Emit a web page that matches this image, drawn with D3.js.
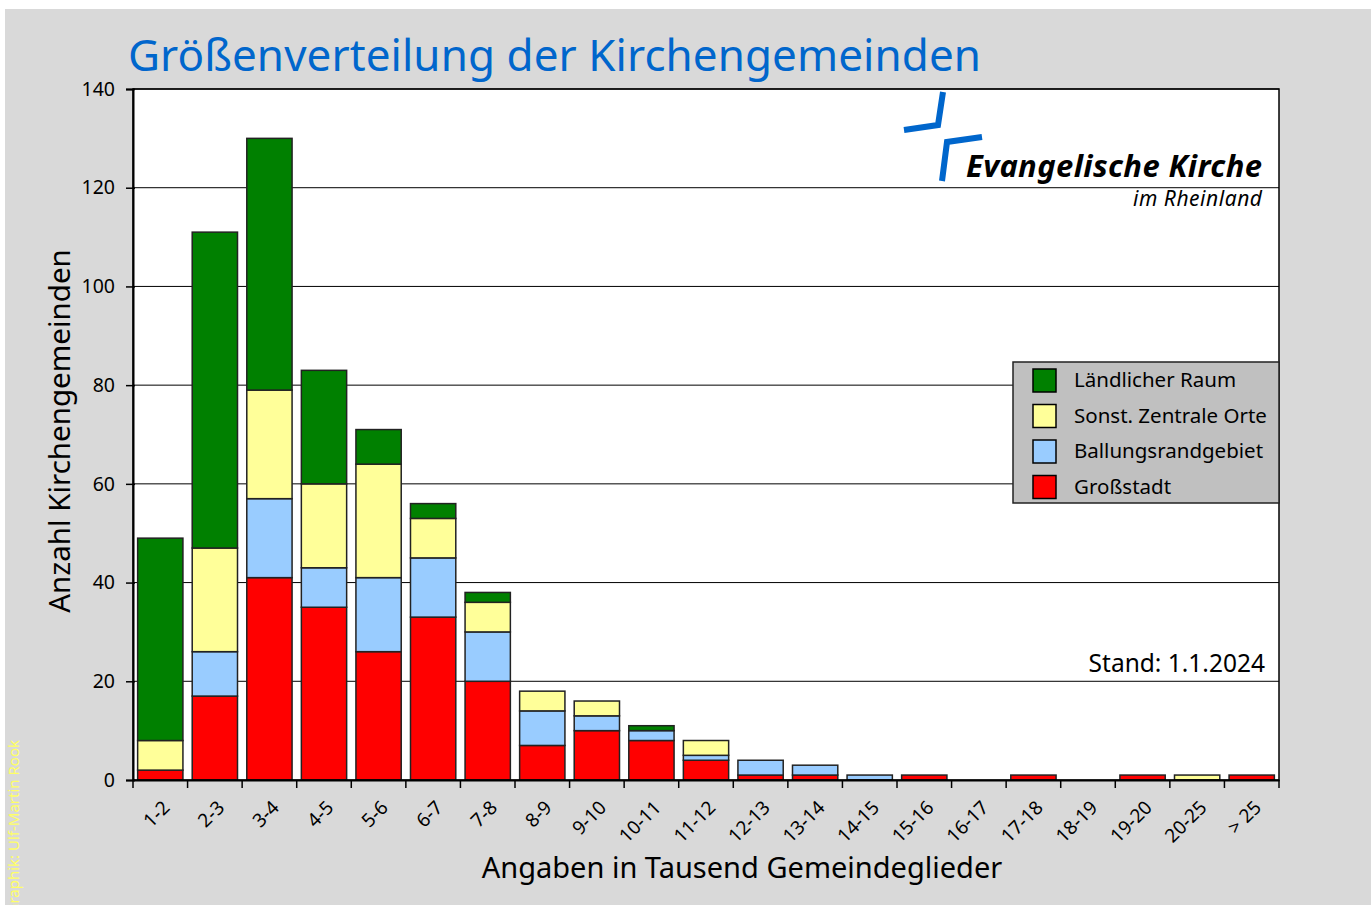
<!DOCTYPE html>
<html>
<head>
<meta charset="utf-8">
<script src="https://cdn.jsdelivr.net/npm/d3@7"></script>
<style>
  body { margin: 0; background: #fff; }
  svg text { font-family: "Noto Sans", "Open Sans", sans-serif; }
</style>
</head>
<body>
<div id="chart"></div>
<script>
window.addEventListener('DOMContentLoaded', () => {

    // categories (thousand members)
    const categories = ['1-2', '2-3', '3-4', '4-5', '5-6', '6-7', '7-8', '8-9', '9-10', '10-11',
        '11-12', '12-13', '13-14', '14-15', '15-16', '16-17', '17-18', '18-19', '19-20', '20-25', '> 25'];

    // series values, bottom to top
    const grossstadt      = [2, 17, 41, 35, 26, 33, 20, 7, 10, 8, 4, 1, 1, 0, 1, 0, 1, 0, 1, 0, 1];
    const ballungsrand    = [0, 9, 16, 8, 15, 12, 10, 7, 3, 2, 1, 3, 2, 1, 0, 0, 0, 0, 0, 0, 0];
    const zentraleOrte    = [6, 21, 22, 17, 23, 8, 6, 4, 3, 0, 3, 0, 0, 0, 0, 0, 0, 0, 0, 1, 0];
    const laendlicherRaum = [41, 64, 51, 23, 7, 3, 2, 0, 0, 1, 0, 0, 0, 0, 0, 0, 0, 0, 0, 0, 0];

    const seriesNames = ['Großstadt', 'Ballungsrandgebiet', 'Sonst. Zentrale Orte', 'Ländlicher Raum'];
    const seriesColors = ['#ff0000', '#99ccff', '#ffff99', '#008000'];
    const yTicks = [0, 20, 40, 60, 80, 100, 120, 140];

    const width = 1371, height = 905;
    const plot = { left: 133, right: 1279, top: 89, bottom: 780 };

    const svg = d3.select('#chart').append('svg')
        .attr('width', width)
        .attr('height', height);

    // grey page background
    svg.append('rect')
        .attr('x', 5).attr('y', 9)
        .attr('width', width - 5).attr('height', height - 9)
        .attr('fill', '#d9d9d9');

    svg.append('rect')
        .attr('x', plot.left).attr('y', plot.top)
        .attr('width', plot.right - plot.left).attr('height', plot.bottom - plot.top)
        .attr('fill', '#fff');

    const x = d3.scaleBand()
        .domain(categories)
        .range([plot.left, plot.right])
        .paddingInner(0.17)
        .paddingOuter(0.085);

    const xTickScale = d3.scaleBand().domain(categories).range([plot.left, plot.right]);

    const y = d3.scaleLinear().domain([0, 140]).range([plot.bottom, plot.top]);

    // gridlines
    svg.append('g')
        .selectAll('line')
        .data(yTicks.slice(1))
        .join('line')
        .attr('x1', plot.left).attr('x2', plot.right)
        .attr('y1', d => y(d)).attr('y2', d => y(d))
        .attr('stroke', '#000').attr('stroke-width', 1);

    // logo
    const logo = svg.append('g');
    logo.append('path')
        .attr('d', 'M943,92 L938,125 L904,130')
        .attr('fill', 'none').attr('stroke', '#0066cc').attr('stroke-width', 6);
    logo.append('path')
        .attr('d', 'M982,137 L947,142 L942,181')
        .attr('fill', 'none').attr('stroke', '#0066cc').attr('stroke-width', 6);
    logo.append('text')
        .attr('x', 1262).attr('y', 177)
        .attr('text-anchor', 'end')
        .attr('font-size', 31).attr('font-weight', 'bold').attr('font-style', 'italic')
        .attr('textLength', 296).attr('lengthAdjust', 'spacing')
        .attr('fill', '#000')
        .text('Evangelische Kirche');
    logo.append('text')
        .attr('x', 1262).attr('y', 206)
        .attr('text-anchor', 'end')
        .attr('font-size', 21).attr('font-style', 'italic')
        .attr('textLength', 129).attr('lengthAdjust', 'spacing')
        .attr('fill', '#000')
        .text('im Rheinland');

    // stacked bars
    const table = categories.map((c, i) => ({
        cat: c,
        s0: grossstadt[i], s1: ballungsrand[i], s2: zentraleOrte[i], s3: laendlicherRaum[i]
    }));
    const stacked = d3.stack().keys(['s0', 's1', 's2', 's3'])(table);

    svg.append('g')
        .selectAll('g')
        .data(stacked)
        .join('g')
        .attr('fill', (d, i) => seriesColors[i])
        .selectAll('rect')
        .data(d => d.filter(p => p[1] - p[0] > 0))
        .join('rect')
        .attr('x', d => x(d.data.cat))
        .attr('width', x.bandwidth())
        .attr('y', d => y(d[1]))
        .attr('height', d => y(d[0]) - y(d[1]))
        .attr('stroke', '#222')
        .attr('stroke-width', 1.5);

    // frame
    svg.append('rect')
        .attr('x', plot.left).attr('y', plot.top)
        .attr('width', plot.right - plot.left).attr('height', plot.bottom - plot.top)
        .attr('fill', 'none').attr('stroke', '#000').attr('stroke-width', 1.5);

    // y axis
    const yAxis = svg.append('g')
        .attr('transform', `translate(${plot.left},0)`)
        .call(d3.axisLeft(y).tickValues(yTicks).tickSize(7).tickPadding(11));
    yAxis.select('.domain').attr('stroke', '#000').attr('stroke-width', 2);
    yAxis.selectAll('.tick line').attr('stroke', '#000').attr('stroke-width', 1.5).attr('x2', -7).attr('x1', 2);
    yAxis.selectAll('.tick text')
        .attr('font-size', 19.5).attr('fill', '#000')
        .style('font-family', '"Noto Sans", sans-serif');

    // x axis
    const xAxis = svg.append('g')
        .attr('transform', `translate(0,${plot.bottom})`)
        .call(d3.axisBottom(xTickScale).tickSize(0).tickFormat(''));
    xAxis.select('.domain').attr('stroke', '#000').attr('stroke-width', 2);

    svg.append('g')
        .selectAll('line')
        .data(categories.concat(['end']))
        .join('line')
        .attr('x1', (d, i) => i < categories.length ? xTickScale(d) : plot.right)
        .attr('x2', (d, i) => i < categories.length ? xTickScale(d) : plot.right)
        .attr('y1', plot.bottom).attr('y2', plot.bottom + 8)
        .attr('stroke', '#000').attr('stroke-width', 1.5);

    svg.append('g')
        .selectAll('text')
        .data(categories)
        .join('text')
        .attr('transform', d => `translate(${xTickScale(d) + xTickScale.bandwidth() / 2 + 6},${plot.bottom + 24}) rotate(-45)`)
        .attr('text-anchor', 'end')
        .attr('dy', '0.35em')
        .attr('font-size', 19)
        .attr('fill', '#000')
        .text(d => d);

    // title
    svg.append('text')
        .attr('x', 128).attr('y', 71)
        .attr('font-size', 44)
        .attr('textLength', 853).attr('lengthAdjust', 'spacing')
        .attr('fill', '#0066cc')
        .text('Größenverteilung der Kirchengemeinden');

    // axis titles
    svg.append('text')
        .attr('x', 742).attr('y', 878)
        .attr('text-anchor', 'middle')
        .attr('font-size', 29)
        .attr('fill', '#000')
        .text('Angaben in Tausend Gemeindeglieder');

    svg.append('text')
        .attr('transform', 'translate(70,431) rotate(-90)')
        .attr('text-anchor', 'middle')
        .attr('font-size', 29.5)
        .attr('fill', '#000')
        .text('Anzahl Kirchengemeinden');

    // Stand
    svg.append('text')
        .attr('x', 1265).attr('y', 672)
        .attr('text-anchor', 'end')
        .attr('font-size', 24.5)
        .attr('fill', '#000')
        .text('Stand: 1.1.2024');

    // legend (top entry = top of stack)
    const legend = svg.append('g').attr('transform', 'translate(1013,362)');
    legend.append('rect')
        .attr('width', 266).attr('height', 141)
        .attr('fill', '#c0c0c0').attr('stroke', '#222').attr('stroke-width', 1.5);
    const order = [3, 2, 1, 0];
    const items = legend.selectAll('g.item')
        .data(order)
        .join('g')
        .attr('class', 'item')
        .attr('transform', (d, i) => `translate(0,${18 + i * 35.5})`);
    items.append('rect')
        .attr('x', 20).attr('y', -11)
        .attr('width', 23).attr('height', 23)
        .attr('fill', d => seriesColors[d])
        .attr('stroke', '#000').attr('stroke-width', 1.5);
    items.append('text')
        .attr('x', 61).attr('y', 0)
        .attr('dy', '0.35em')
        .attr('font-size', 20.5)
        .attr('fill', '#000')
        .text(d => seriesNames[d]);

    // credit
    svg.append('text')
        .attr('transform', 'translate(19,740) rotate(-90)')
        .attr('text-anchor', 'end')
        .attr('font-size', 15)
        .attr('fill', '#ffff66')
        .text('Graphik: Ulf-Martin Rook');

}); //end of doc ready
</script>
</body>
</html>
